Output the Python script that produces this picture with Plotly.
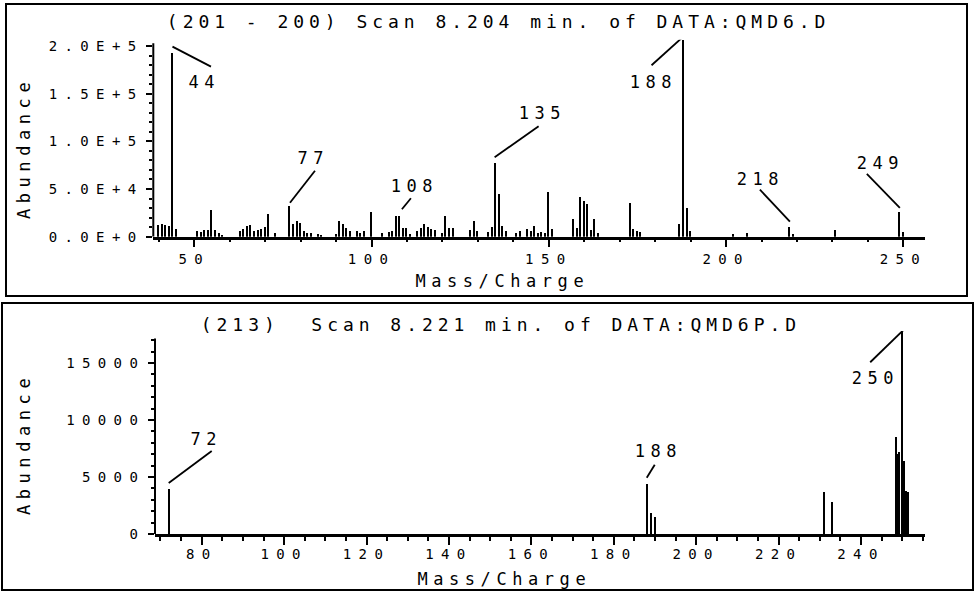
import plotly.graph_objects as go

W, H = 975, 594
FONT = "DejaVu Sans Mono"

# ---------------- data ----------------
top_mz = [40, 41, 42, 43, 44, 45, 51, 52, 53, 54, 55, 56, 57, 58,
          63, 64, 65, 66, 67, 68, 69, 70, 71, 73, 77, 78, 79, 80, 81, 82, 83, 85, 86,
          90, 91, 92, 93, 94, 96, 97, 98, 100, 103, 105, 106, 107, 108, 109, 110, 111,
          113, 114, 115, 116, 117, 118, 120, 121, 122, 123, 128, 129, 130,
          133, 134, 135, 136, 137, 138, 141, 142, 144, 145, 146, 147, 148, 149, 150, 151,
          157, 158, 159, 160, 161, 162, 163, 164, 173, 174, 175, 176,
          187, 188, 189, 190, 202, 206, 218, 219, 231, 249, 250]
top_ab = [12500, 13500, 12000, 11000, 193000, 8000, 6500, 5000, 7000, 7500, 28000, 7000, 4500, 2000,
          6000, 8000, 11500, 13000, 6000, 7000, 8500, 10500, 23500, 4000, 32500, 14000, 16500, 15000, 6000, 4500, 4000, 3500, 2500,
          2800, 16500, 14000, 9500, 6000, 6000, 4500, 6000, 26500, 4500, 5000, 6000, 22000, 21500, 9000, 9000, 2800,
          6000, 9800, 14000, 10500, 8000, 7000, 4500, 22000, 9000, 9000, 7000, 16500, 6000,
          5000, 10500, 77000, 45000, 11500, 6000, 4500, 6000, 8000, 6000, 11000, 4500, 5000, 4500, 47500, 8000,
          18500, 9800, 42000, 38000, 34000, 7000, 18500, 4500, 36000, 8000, 6000, 5000,
          13500, 206000, 30500, 6000, 3000, 4500, 10500, 3500, 7000, 26000, 5000]

bot_mz = [72, 188, 189, 190, 231, 233, 248.4, 248.8, 249.3, 250, 250.4, 251, 251.4]
bot_ab = [3950, 4400, 1800, 1500, 3700, 2800, 8500, 7000, 7200, 17700, 6400, 3800, 3700]

top_title = "(201 - 200) Scan 8.204 min. of DATA:QMD6.D"
bot_title = "(213)  Scan 8.221 min. of DATA:QMD6P.D"
x_title = "Mass/Charge"
y_title = "Abundance"

top_xticks = [50, 100, 150, 200, 250]
top_yticks = [0, 50000, 100000, 150000, 200000]
top_yticktext = ["0.0E+0", "5.0E+4", "1.0E+5", "1.5E+5", "2.0E+5"]
bot_xticks = [80, 100, 120, 140, 160, 180, 200, 220, 240]
bot_yticks = [0, 5000, 10000, 15000]
bot_yticktext = ["0", "5000", "10000", "15000"]

top_peak_labels = [44, 77, 108, 135, 188, 218, 249]
bot_peak_labels = [72, 188, 250]

# ---------------- styling (pixel offsets for leader lines / labels) ----------------
# (line start dx, dy, line end dx, dy, label dx, dy) relative to peak top, dy positive = up
top_label_geom = {
    44: (-0.5, 6, 38, -14, 31, -29),
    77: (0, 3, 25, 35, 23, 48),
    108: (2, 7, 11, 18, 15, 30),
    135: (-1, 6, 43, 37, 47, 50),
    188: (-1, 3, -32, -25, -30, -42),
    218: (0, 5, -30, 37, -29, 48),
    249: (0, 4, -33, 38, -19, 49),
}
bot_label_geom = {
    72: (0, 6, 43, 38, 37, 50),
    188: (0, 6, 8, 19, 12, 33),
    250: (1, 2, -32, -30, -27, -46),
}


def px(x):
    return x / W


def py(y):
    return 1 - y / H


fig = go.Figure()
fig.add_trace(go.Bar(x=top_mz, y=top_ab, width=0.42, marker=dict(color="black", line=dict(width=0)),
                     xaxis="x", yaxis="y", showlegend=False, hoverinfo="x+y"))
fig.add_trace(go.Bar(x=bot_mz, y=bot_ab, width=0.3, marker=dict(color="black", line=dict(width=0)),
                     xaxis="x2", yaxis="y2", showlegend=False, hoverinfo="x+y"))

tickfont = dict(family=FONT, size=14, color="black")

fig.update_layout(
    width=W, height=H, margin=dict(l=0, r=0, t=0, b=0, autoexpand=False),
    paper_bgcolor="white", plot_bgcolor="white",
    bargap=0,
    xaxis=dict(domain=[px(153.3), px(925)], range=[38.45, 256.1], anchor="y", automargin=False,
               showline=True, linecolor="black", linewidth=2.5, showgrid=False, zeroline=False,
               tickvals=top_xticks, ticks="outside", ticklen=8, tickwidth=2, tickcolor="black",
               tickfont=tickfont,
               minor=dict(ticks="outside", ticklen=3, tickwidth=1.5, tickcolor="black", dtick=10, tick0=0)),
    yaxis=dict(domain=[py(236.7), py(39.8)], range=[0, 206500], anchor="x", automargin=False,
               showline=False, showgrid=False, zeroline=False,
               tickvals=top_yticks, ticktext=top_yticktext, ticks="outside", ticklen=6, tickwidth=2,
               tickcolor="black", tickfont=tickfont,
               minor=dict(ticks="outside", ticklen=3, tickwidth=1.5, tickcolor="black", dtick=10000, tick0=0)),
    xaxis2=dict(domain=[px(155), px(925)], range=[68.67, 255.53], anchor="y2", automargin=False,
                showline=True, linecolor="black", linewidth=2.5, showgrid=False, zeroline=False,
                tickvals=bot_xticks, ticks="outside", ticklen=8, tickwidth=2, tickcolor="black",
                tickfont=tickfont, ticklabelstandoff=-3,
                minor=dict(ticks="outside", ticklen=4, tickwidth=1.5, tickcolor="black", dtick=5, tick0=0)),
    yaxis2=dict(domain=[py(534), py(331.1)], range=[0, 17800], anchor="x2", automargin=False,
                showline=False, showgrid=False, zeroline=False,
                tickvals=bot_yticks, ticktext=bot_yticktext, ticks="outside", ticklen=6, tickwidth=2,
                tickcolor="black", tickfont=tickfont,
                minor=dict(ticks="outside", ticklen=3, tickwidth=1.5, tickcolor="black", dtick=1000, tick0=0)),
)

shapes = []
# panel frames
shapes.append(dict(type="rect", xref="paper", yref="paper", x0=px(6), x1=px(967), y0=py(296), y1=py(4),
                   line=dict(color="black", width=2)))
shapes.append(dict(type="rect", xref="paper", yref="paper", x0=px(2), x1=px(973), y0=py(590), y1=py(303),
                   line=dict(color="black", width=2)))
# y axis lines (ending at the top tick region)
shapes.append(dict(type="line", xref="x domain", yref="y", x0=0, x1=0, y0=0, y1=203000,
                   line=dict(color="black", width=2)))
shapes.append(dict(type="line", xref="x2 domain", yref="y2", x0=0, x1=0, y0=0, y1=17150,
                   line=dict(color="black", width=2)))

annotations = []
labfont = dict(family=FONT, size=17, color="black")


def add_peak_labels(mzs, abs_, labels, geom, xr, yr):
    for lab in labels:
        i = mzs.index(lab)
        x, y = mzs[i], abs_[i]
        sx, sy, ex, ey, lx, ly = geom[lab]
        shapes.append(dict(type="line", xref=xr, yref=yr, xsizemode="pixel", ysizemode="pixel",
                           xanchor=x, yanchor=y, x0=sx, x1=ex, y0=sy, y1=ey,
                           line=dict(color="black", width=1.8)))
        annotations.append(dict(x=x, y=y, xref=xr, yref=yr, text=str(lab), showarrow=False,
                                xanchor="center", yanchor="middle",
                                xshift=lx, yshift=ly, font=labfont))


add_peak_labels(top_mz, top_ab, top_peak_labels, top_label_geom, "x", "y")
add_peak_labels(bot_mz, bot_ab, bot_peak_labels, bot_label_geom, "x2", "y2")

titlefont = dict(family=FONT, size=18, color="black")
axfont = dict(family=FONT, size=17, color="black")
C = dict(xref="paper", yref="paper", showarrow=False, xanchor="center", yanchor="middle")
annotations += [
    dict(x=px(498), y=py(21), text=top_title, font=titlefont, **C),
    dict(x=px(501), y=py(324), text=bot_title, font=titlefont, **C),
    dict(x=px(503), y=py(281), text=x_title, font=axfont, **C),
    dict(x=px(504), y=py(579), text=x_title, font=axfont, **C),
    dict(x=px(24), y=py(148), text=y_title, font=axfont, textangle=-90, **C),
    dict(x=px(24), y=py(444), text=y_title, font=axfont, textangle=-90, **C),
]

fig.update_layout(shapes=shapes, annotations=annotations)

# page without body margin; widen the monospace glyph cells to mimic the plotter's wide character pitch
post = """
document.body.style.margin = '0';
document.body.style.padding = '0';
var gd = document.getElementsByClassName('plotly-graph-div')[0];
gd.querySelectorAll('text').forEach(function(t){
  var fs = parseFloat(t.style.fontSize || window.getComputedStyle(t).fontSize);
  if (fs > 0) { t.style.letterSpacing = Math.max(0, 15.8 - 0.602*fs).toFixed(2) + 'px'; }
});
"""
fig.write_html("out.html", post_script=post, config={"displayModeBar": False})
